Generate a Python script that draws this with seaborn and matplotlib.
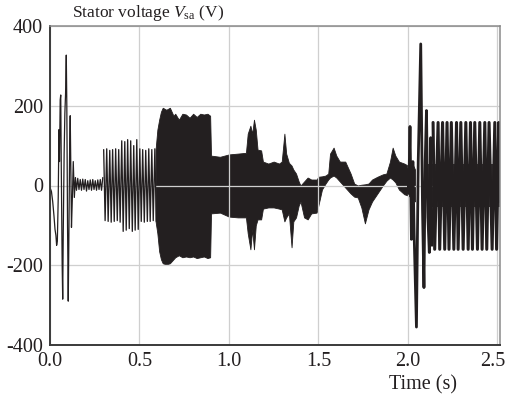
import matplotlib
matplotlib.use("Agg")
import matplotlib.pyplot as plt
import matplotlib.transforms as mtransforms
import seaborn as sns
import numpy as np

# ---------------- data ----------------
# start-up transient and small ripple (explicit vertices)
start_t = [0.000, 0.008, 0.015, 0.022, 0.028, 0.033, 0.037, 0.041, 0.046, 0.050,
           0.053, 0.057, 0.060, 0.063, 0.068, 0.071, 0.074, 0.079, 0.083, 0.087,
           0.091, 0.094, 0.098, 0.102, 0.105, 0.110, 0.113, 0.117, 0.120, 0.125,
           0.130, 0.136, 0.142, 0.148, 0.155, 0.162, 0.169, 0.176, 0.183, 0.190,
           0.197, 0.204, 0.211, 0.218, 0.225, 0.232, 0.239, 0.246, 0.253, 0.260,
           0.267, 0.274, 0.281, 0.288, 0.295]
start_v = [-5, -15, -40, -75, -110, -125, -150, -140, -30, 140,
           60, 215, 227, 50, -200, -285, -120, 80, 180, 230,
           327, 200, -100, -290, -150, 100, 175, 20, -105, -30,
           60, -30, 20, -12, 18, -10, 15, -12, 16, -10,
           15, -14, 12, -10, 14, -12, 15, -10, 12, -12,
           14, -10, 15, -12, 20]

# burst 0.30 - 0.60 s (alternating peaks)
burst_t = [0.300, 0.308, 0.317, 0.325, 0.334, 0.342, 0.350, 0.359, 0.367, 0.376,
           0.384, 0.392, 0.401, 0.409, 0.418, 0.426, 0.434, 0.443, 0.451, 0.460,
           0.468, 0.476, 0.485, 0.493, 0.502, 0.510, 0.518, 0.527, 0.535, 0.544,
           0.552, 0.560, 0.569, 0.577, 0.586, 0.594]
burst_v = [90, -88, 92, -90, 88, -92, 90, -90, 92, -88,
           90, -92, 112, -115, 110, -112, 115, -108, 112, -115,
           100, -112, 115, -110, 92, -90, 90, -92, 88, -90,
           92, -90, 90, -88, 92, -90]

# dense band 0.59 - 2.04 s (upper / lower envelope)
band_t = [0.590, 0.600, 0.610, 0.620, 0.630, 0.650, 0.670, 0.690, 0.700, 0.720,
          0.740, 0.760, 0.780, 0.800, 0.820, 0.840, 0.860, 0.880, 0.895, 0.900,
          0.950, 1.000, 1.050, 1.095, 1.105, 1.120, 1.130, 1.140, 1.150, 1.160,
          1.180, 1.190, 1.220, 1.250, 1.280, 1.295, 1.310, 1.320, 1.335, 1.350,
          1.360, 1.375, 1.390, 1.400, 1.420, 1.440, 1.460, 1.490, 1.500, 1.520,
          1.540, 1.555, 1.565, 1.585, 1.600, 1.620, 1.650, 1.680, 1.700, 1.720,
          1.740, 1.760, 1.780, 1.800, 1.830, 1.860, 1.880, 1.900, 1.915, 1.930,
          1.950, 1.980, 2.000, 2.020, 2.040]
band_hi = [90, 140, 165, 185, 195, 190, 195, 175, 180, 165,
           180, 178, 170, 180, 172, 180, 178, 180, 175, 75,
           72, 78, 80, 82, 130, 150, 130, 165, 140, 90,
           88, 60, 55, 60, 55, 60, 130, 80, 57, 50,
           40, 30, 10, 0, 10, 20, 15, 15, 22, 23,
           25, 30, 80, 95, 75, 60, 60, 30, 5, 0,
           2, 3, 5, 15, 22, 28, 30, 60, 95, 75,
           60, 55, 50, 60, 40]
band_lo = [-90, -120, -165, -185, -195, -198, -195, -185, -180, -175,
           -180, -178, -180, -178, -182, -180, -178, -182, -180, -70,
           -68, -78, -80, -80, -120, -160, -110, -160, -100, -85,
           -85, -58, -55, -55, -58, -60, -90, -80, -70, -155,
           -90, -80, -50, -40, -80, -85, -70, -68, -50, -10,
           5, 15, 20, 25, 20, 10, -5, -20, -28, -30,
           -55, -95, -60, -40, -20, 0, 12, 20, 15, 8,
           -10, -22, -25, -30, -40]

# fault transient around 2.0 - 2.14 s
fault_t = [2.000, 2.005, 2.012, 2.020, 2.028, 2.035, 2.048, 2.058, 2.072, 2.082,
           2.090, 2.097, 2.104, 2.112, 2.120, 2.128, 2.135]
fault_v = [40, -20, 148, -135, 60, -120, -355, 60, 355, -60,
           -256, 60, 188, -80, -168, 120, -150]

# steady oscillation 2.14 - 2.515 s (alternating peaks)
osc_t = [2.141, 2.150, 2.169, 2.178, 2.194, 2.206, 2.219, 2.230, 2.243, 2.257,
         2.272, 2.281, 2.296, 2.309, 2.324, 2.337, 2.350, 2.361, 2.374, 2.389,
         2.402, 2.415, 2.430, 2.441, 2.454, 2.471, 2.486, 2.496, 2.508, 2.515]
osc_v = [158, -160, 158, -160, 158, -160, 158, -160, 158, -160,
         158, -160, 158, -160, 158, -160, 158, -160, 158, -160,
         158, -160, 158, -160, 158, -160, 158, -160, 158, -40]

# dark core of the steady oscillation
core_t = [2.110, 2.515]
core_hi = [55, 55]
core_lo = [-55, -55]

x_ticks = [0.0, 0.5, 1.0, 1.5, 2.0, 2.5]
x_labels = ["0.0", "0.5", "1.0", "1.5", "2.0", "2.5"]
y_ticks = [-400, -200, 0, 200, 400]
y_labels = ["-400", "-200", "0", "200", "400"]

# ---------------- drawing ----------------
sns.set_theme(style="white")
plt.rcParams["font.family"] = ["Liberation Serif", "DejaVu Serif"]
plt.rcParams["mathtext.fontset"] = "custom"
plt.rcParams["mathtext.rm"] = "Liberation Serif"
plt.rcParams["mathtext.it"] = "Liberation Serif:italic"

ink = "#231f20"
W, H = 508, 401
fig = plt.figure(figsize=(W / 100, H / 100), dpi=100)
ax = fig.add_axes([50 / W, 1 - 345 / H, 450 / W, 319 / H])

ax.fill_between(band_t, band_lo, band_hi, color=ink, linewidth=0.6, zorder=2)
ax.fill_between(core_t, core_lo, core_hi, color=ink, alpha=0.9, linewidth=0, zorder=2)
sns.lineplot(x=start_t, y=start_v, ax=ax, color=ink, linewidth=0.9, sort=False,
             estimator=None, zorder=3)
sns.lineplot(x=burst_t, y=burst_v, ax=ax, color=ink, linewidth=0.95, sort=False,
             estimator=None, zorder=3)
sns.lineplot(x=fault_t, y=fault_v, ax=ax, color=ink, linewidth=2.0, sort=False,
             estimator=None, zorder=3)
sns.lineplot(x=osc_t, y=osc_v, ax=ax, color=ink, linewidth=2.2, sort=False,
             estimator=None, zorder=3)

ax.set_xlim(0, 2.515)
ax.set_ylim(-400, 400)
ax.set_xticks(x_ticks)
ax.set_xticklabels(x_labels)
ax.set_yticks(y_ticks)
ax.set_yticklabels(y_labels)
ax.tick_params(axis="both", length=0, labelsize=14.5, colors="#231f20")
ax.tick_params(axis="x", pad=5)
ax.tick_params(axis="y", pad=5)
ax.set_xlabel("")
ax.set_ylabel("")

# keep the last x label inside the canvas
last = ax.get_xticklabels()[-1]
last.set_transform(last.get_transform() +
                   mtransforms.ScaledTranslation(-5 / 100, 0, fig.dpi_scale_trans))

ax.set_axisbelow(False)
ax.grid(True, color="#cfcfcf", linewidth=0.9, zorder=5)

for side in ["left", "bottom"]:
    ax.spines[side].set_color("#3a3a3a")
    ax.spines[side].set_linewidth(1.4)
for side in ["top", "right"]:
    ax.spines[side].set_color("#8a8a8a")
    ax.spines[side].set_linewidth(1.1)
for s in ax.spines.values():
    s.set_zorder(6)

fig.text(72 / W, 1 - 17 / H, r"Stator voltage $\mathit{V}_{\mathrm{sa}}$ (V)",
         fontsize=12.5, color="#231f20", ha="left", va="baseline")
fig.text(423 / W, 1 - 385 / H, "Time (s)", fontsize=14.5, color="#231f20",
         ha="center", va="center")

fig.savefig("out.png", dpi=100, facecolor="white")
